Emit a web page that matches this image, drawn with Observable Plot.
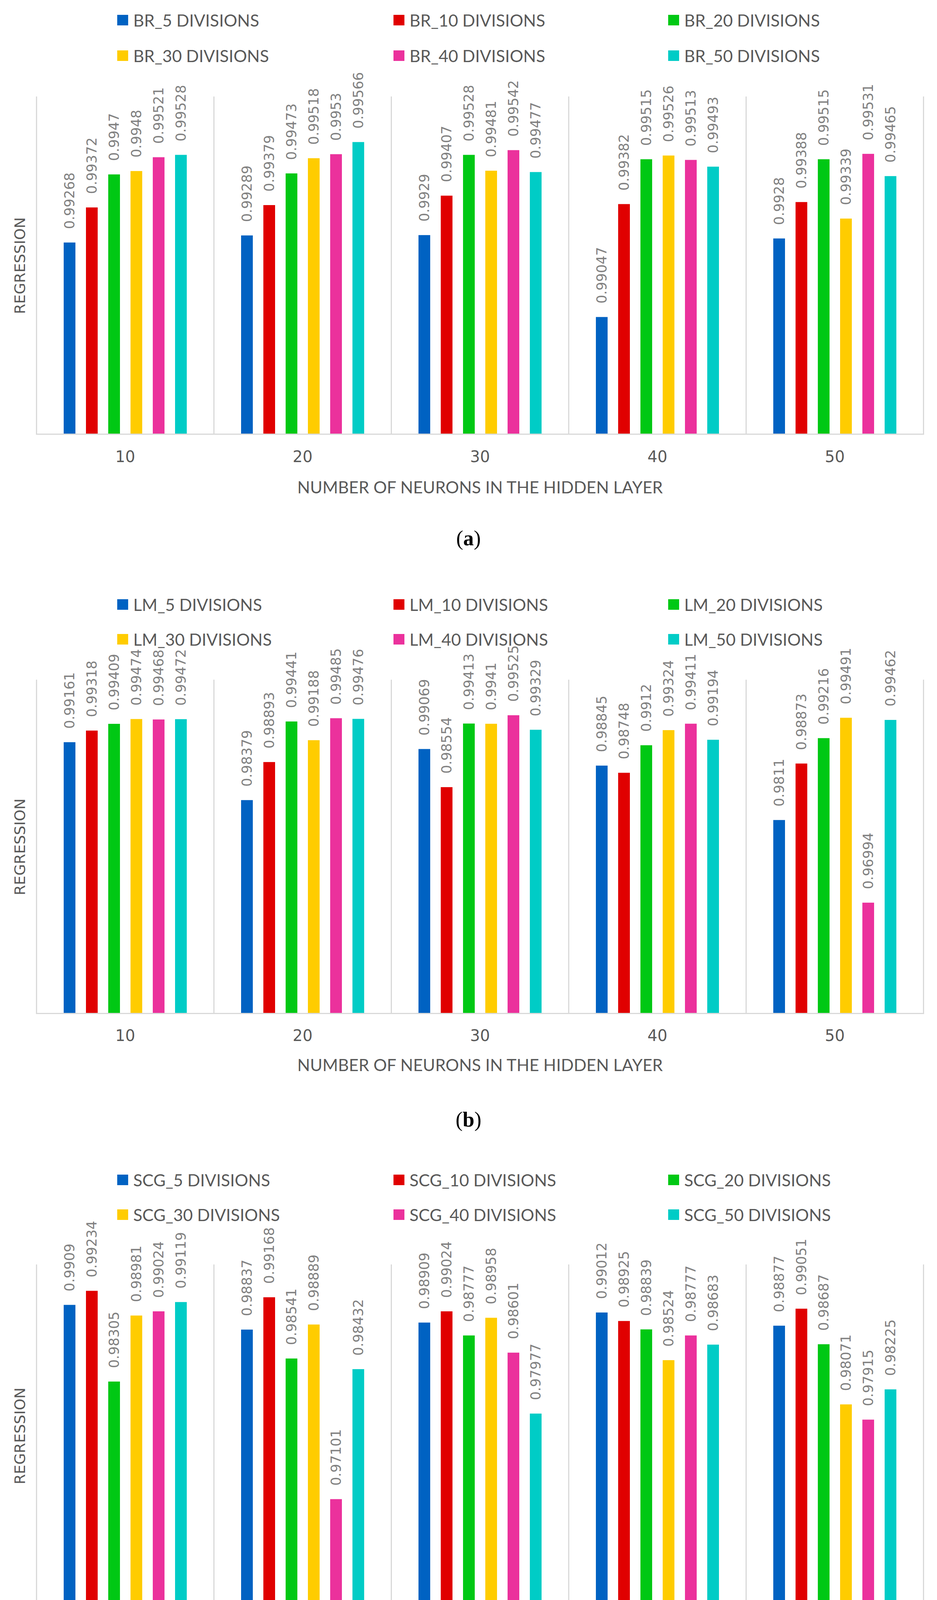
<!DOCTYPE html>
<html>
<head>
<meta charset="utf-8">
<script src="https://cdn.jsdelivr.net/npm/d3@7"></script>
<script src="https://cdn.jsdelivr.net/npm/@observablehq/plot@0.6"></script>
<style>
html, body { margin: 0; padding: 0; background: #ffffff; }
#page { position: relative; width: 2398px; height: 4425px; overflow: hidden; background: #ffffff; }
.leg { position: absolute; display: flex; align-items: center; height: 52px; font-family: Lato, "Open Sans", sans-serif; font-size: 43px; color: #595959; white-space: nowrap; z-index: 2; }
.sw { width: 28px; height: 27px; margin-right: 13px; flex: none; }
.cap { position: absolute; left: 0; width: 2398px; text-align: center; font-family: "Liberation Serif", "DejaVu Serif", serif; font-size: 54px; color: #000; line-height: 60px; }
</style>
</head>
<body>
<div id="page"></div>
<script>
// ---------------- data ----------------
const categories = [10, 20, 30, 40, 50];
const divisions = ["5 DIVISIONS", "10 DIVISIONS", "20 DIVISIONS", "30 DIVISIONS", "40 DIVISIONS", "50 DIVISIONS"];
const seriesColors = ["#0062C2", "#E00000", "#00C814", "#FFCC00", "#EB319C", "#00CCC6"];
const xTitle = "NUMBER OF NEURONS IN THE HIDDEN LAYER";
const yTitle = "REGRESSION";

// values per series (5, 10, 20, 30, 40, 50 divisions), across neurons 10..50
const brValues = [
  [0.99268, 0.99289, 0.9929, 0.99047, 0.9928],
  [0.99372, 0.99379, 0.99407, 0.99382, 0.99388],
  [0.9947, 0.99473, 0.99528, 0.99515, 0.99515],
  [0.9948, 0.99518, 0.99481, 0.99526, 0.99339],
  [0.99521, 0.9953, 0.99542, 0.99513, 0.99531],
  [0.99528, 0.99566, 0.99477, 0.99493, 0.99465]
];
const lmValues = [
  [0.99161, 0.98379, 0.99069, 0.98845, 0.9811],
  [0.99318, 0.98893, 0.98554, 0.98748, 0.98873],
  [0.99409, 0.99441, 0.99413, 0.9912, 0.99216],
  [0.99474, 0.99188, 0.9941, 0.99324, 0.99491],
  [0.99468, 0.99485, 0.99525, 0.99411, 0.96994],
  [0.99472, 0.99476, 0.99329, 0.99194, 0.99462]
];
const scgValues = [
  [0.9909, 0.98837, 0.98909, 0.99012, 0.98877],
  [0.99234, 0.99168, 0.99024, 0.98925, 0.99051],
  [0.98305, 0.98541, 0.98777, 0.98839, 0.98687],
  [0.98981, 0.98889, 0.98958, 0.98524, 0.98071],
  [0.99024, 0.97101, 0.98601, 0.98777, 0.97915],
  [0.99119, 0.98432, 0.97977, 0.98683, 0.98225]
];
const brDomain = [0.987, 0.997];
const lmDomain = [0.955, 1.0];
const scgDomain = [0.96, 0.995];

// ---------------- layout ----------------
const panels = [
  {prefix: "BR_", values: brValues, domain: brDomain, caption: "a",
   svgTop: 160, height: 1130, marginTop: 88, marginBottom: 179, tickPadding: 43, labelOffset: 151,
   legendRows: [51, 142], captionY: 1378},
  {prefix: "LM_", values: lmValues, domain: lmDomain, caption: "b",
   svgTop: 1600, height: 1173, marginTop: 141, marginBottom: 179, tickPadding: 42, labelOffset: 147,
   legendRows: [1547, 1636], captionY: 2866},
  {prefix: "SCG_", values: scgValues, domain: scgDomain, caption: "c",
   svgTop: 3080, height: 1212, marginTop: 158, marginBottom: 179, tickPadding: 45, labelOffset: 152,
   legendRows: [3020, 3109], captionY: 4357}
];
const legendCols = [300, 1007, 1710];

const page = document.getElementById("page");

for (const p of panels) {
  const names = divisions.map(d => p.prefix + d);
  const rows = [];
  p.values.forEach((vals, si) => vals.forEach((v, ci) => rows.push({cat: categories[ci], series: names[si], value: v})));

  const chart = Plot.plot({
    width: 2398,
    height: p.height,
    marginTop: p.marginTop,
    marginBottom: p.marginBottom,
    marginLeft: 93,
    marginRight: 35,
    style: {background: "transparent", overflow: "visible", fontFamily: "DejaVu Sans"},
    fx: {domain: categories, padding: 0},
    x: {domain: names, axis: null, paddingInner: 0.478, paddingOuter: 1.18},
    y: {domain: p.domain},
    color: {domain: names, range: seriesColors},
    marks: [
      Plot.frame({anchor: "left", stroke: "#d9d9d9", strokeWidth: 3}),
      Plot.frame({anchor: "right", stroke: "#d9d9d9", strokeWidth: 3}),
      Plot.barY(rows, {fx: "cat", x: "series", y1: p.domain[0], y2: "value", fill: "series"}),
      Plot.text(rows, {fx: "cat", x: "series", y: "value", text: d => String(d.value),
        rotate: -90, textAnchor: "start", lineAnchor: "middle", dy: -35,
        fill: "#808080", fontSize: 35, fontFamily: "DejaVu Sans"}),
      Plot.ruleY([p.domain[0]], {stroke: "#d9d9d9", strokeWidth: 3}),
      Plot.axisFx({anchor: "bottom", tickSize: 0, tickPadding: p.tickPadding, label: null,
        fontSize: 40, fontFamily: "DejaVu Sans", color: "#595959"}),
      Plot.axisFx({anchor: "bottom", tickSize: 0, tickFormat: () => "", label: xTitle,
        labelAnchor: "center", labelOffset: p.labelOffset, labelArrow: "none",
        fontSize: 43, fontFamily: "Lato", color: "#595959"}),
      Plot.axisY({anchor: "left", ticks: [], tickSize: 0, label: yTitle, labelAnchor: "center",
        labelOffset: 56, labelArrow: "none", fontSize: 38, fontFamily: "DejaVu Sans", color: "#595959"})
    ]
  });
  chart.style.position = "absolute";
  chart.style.top = p.svgTop + "px";
  chart.style.left = "0px";
  page.appendChild(chart);

  // legend: two rows by three columns
  names.forEach((n, i) => {
    const row = Math.floor(i / 3), col = i % 3;
    const item = document.createElement("div");
    item.className = "leg";
    item.style.left = legendCols[col] + "px";
    item.style.top = (p.legendRows[row] - 26) + "px";
    const sw = document.createElement("span");
    sw.className = "sw";
    sw.style.background = seriesColors[i];
    item.appendChild(sw);
    const t = document.createElement("span");
    t.textContent = n;
    item.appendChild(t);
    page.appendChild(item);
  });

  const cap = document.createElement("div");
  cap.className = "cap";
  cap.style.top = (p.captionY - 30) + "px";
  cap.innerHTML = "(<b>" + p.caption + "</b>)";
  page.appendChild(cap);
}
</script>
</body>
</html>
